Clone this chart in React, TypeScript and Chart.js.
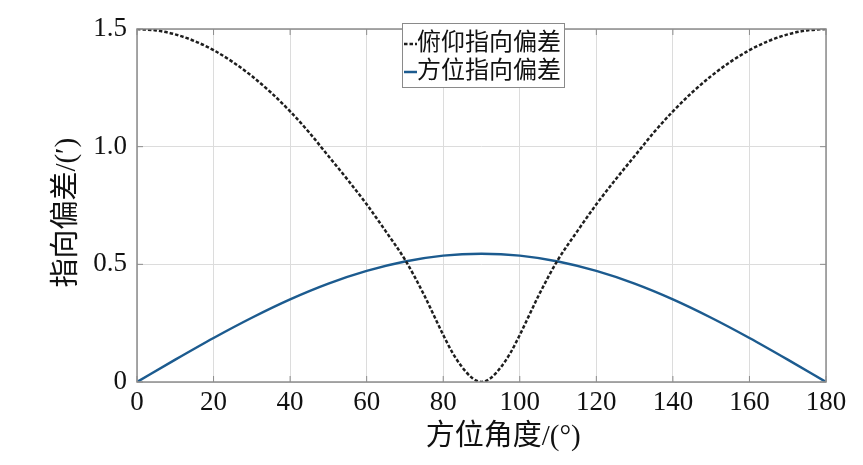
import React, { useEffect, useRef } from 'react';
import { Chart, registerables } from 'chart.js';

Chart.register(...registerables);

// ---- data ----
const elevationAngles = [
  0, 5, 10, 15, 20, 25, 30, 35, 40, 45, 50, 55, 60, 65, 70, 75, 77.5, 80, 82.5, 85, 87.5, 90,
  92.5, 95, 97.5, 100, 102.5, 105, 110, 115, 120, 125, 130, 135, 140, 145, 150, 155, 160, 165, 170, 175, 180,
];
const elevationDeviation = [
  1.5, 1.494, 1.477, 1.449, 1.41, 1.36, 1.3, 1.23, 1.15, 1.06, 0.96, 0.86, 0.755, 0.64, 0.52, 0.37, 0.285, 0.2, 0.122, 0.062, 0.018, 0,
  0.018, 0.062, 0.122, 0.2, 0.285, 0.37, 0.52, 0.64, 0.755, 0.86, 0.96, 1.06, 1.15, 1.23, 1.3, 1.36, 1.41, 1.449, 1.477, 1.494, 1.5,
];
const azimuthAngles = [0, 10, 20, 30, 40, 50, 60, 70, 80, 90, 100, 110, 120, 130, 140, 150, 160, 170, 180];
const azimuthDeviation = [
  0, 0.095, 0.187, 0.273, 0.351, 0.418, 0.472, 0.512, 0.537, 0.545, 0.537, 0.512, 0.472, 0.418, 0.351, 0.273, 0.187, 0.095, 0,
];
const seriesLabels = ['俯仰指向偏差', '方位指向偏差'];
const xTitle = '\u00A0\u00A0\u00A0\u00A0\u00A0\u00A0方位角度/(°)';
const yTitle = '指向偏差/(′)\u00A0\u00A0';
const xTicks = [0, 20, 40, 60, 80, 100, 120, 140, 160, 180];
const yTicks = [0, 0.5, 1.0, 1.5];
const yTickLabels = ['0', '0.5', '1.0', '1.5'];

const FONT = "'Liberation Serif', 'Noto Sans CJK SC', serif";
const FRAME = '#8c8c8c';
const GRID = '#dcdcdc';

const framePlugin = {
  id: 'matlabFrame',
  afterDatasetsDraw(chart: any) {
    const { ctx, chartArea, scales } = chart;
    const { left, right, top, bottom } = chartArea;
    ctx.save();
    // inner tick marks
    ctx.strokeStyle = FRAME;
    ctx.lineWidth = 1;
    const tl = 6;
    ctx.beginPath();
    xTicks.forEach((v) => {
      const px = scales.x.getPixelForValue(v);
      ctx.moveTo(px, bottom);
      ctx.lineTo(px, bottom - tl);
      ctx.moveTo(px, top);
      ctx.lineTo(px, top + tl);
    });
    yTicks.forEach((v) => {
      const py = scales.y.getPixelForValue(v);
      ctx.moveTo(left, py);
      ctx.lineTo(left + tl, py);
      ctx.moveTo(right, py);
      ctx.lineTo(right - tl, py);
    });
    ctx.stroke();
    // box
    ctx.lineWidth = 1.5;
    ctx.strokeRect(left, top, right - left, bottom - top);

    // legend box
    const bx = 402, by = 23, bw = 162, bh = 64;
    ctx.fillStyle = '#ffffff';
    ctx.fillRect(bx, by, bw, bh);
    ctx.strokeStyle = '#8a8a8a';
    ctx.lineWidth = 1;
    ctx.strokeRect(bx + 0.5, by + 0.5, bw, bh);
    const rows = [44, 72];
    chart.data.datasets.forEach((ds: any, i: number) => {
      const y = rows[i];
      ctx.strokeStyle = ds.borderColor;
      ctx.lineWidth = 2.5;
      ctx.setLineDash(ds.borderDash || []);
      ctx.beginPath();
      ctx.moveTo(bx + 2, y);
      ctx.lineTo(bx + 15, y);
      ctx.stroke();
      ctx.setLineDash([]);
      ctx.fillStyle = '#111111';
      ctx.font = `24px ${FONT}`;
      ctx.textBaseline = 'middle';
      ctx.textAlign = 'left';
      ctx.fillText(ds.label, bx + 15, y);
    });
    ctx.restore();
  },
};

export default function App() {
  const canvasRef = useRef<HTMLCanvasElement | null>(null);

  useEffect(() => {
    document.body.style.margin = '0';
    const canvas = canvasRef.current;
    if (!canvas) return;
    const chart = new Chart(canvas, {
      type: 'line',
      data: {
        datasets: [
          {
            label: seriesLabels[0],
            data: elevationAngles.map((a, i) => ({ x: a, y: elevationDeviation[i] })),
            borderColor: '#1e1e1e',
            borderWidth: 2.5,
            borderDash: [3.5, 2],
            pointRadius: 0,
            fill: false,
            cubicInterpolationMode: 'monotone',
          },
          {
            label: seriesLabels[1],
            data: azimuthAngles.map((a, i) => ({ x: a, y: azimuthDeviation[i] })),
            borderColor: '#1c5b8f',
            borderWidth: 2.5,
            pointRadius: 0,
            fill: false,
            cubicInterpolationMode: 'monotone',
          },
        ],
      },
      options: {
        animation: false,
        responsive: false,
        devicePixelRatio: 1,
        layout: { padding: { left: 30, top: 29, right: 37, bottom: 0 } },
        plugins: {
          legend: { display: false },
          tooltip: { enabled: false },
        },
        scales: {
          x: {
            type: 'linear',
            min: 0,
            max: 180,
            afterFit: (s: any) => {
              s.height = 83;
            },
            afterBuildTicks: (s: any) => {
              s.ticks = xTicks.map((v) => ({ value: v }));
            },
            ticks: {
              stepSize: 20,
              padding: 5,
              color: '#111111',
              font: { family: FONT, size: 27 },
              maxRotation: 0,
              callback: (v: any) => String(v),
            },
            grid: { color: GRID, lineWidth: 1, drawTicks: false },
            border: { display: false },
            title: {
              display: true,
              text: xTitle,
              color: '#111111',
              font: { family: FONT, size: 29 },
              padding: { top: 0, bottom: 10 },
            },
          },
          y: {
            type: 'linear',
            min: 0,
            max: 1.5,
            afterFit: (s: any) => {
              s.width = 107;
            },
            afterBuildTicks: (s: any) => {
              s.ticks = yTicks.map((v) => ({ value: v }));
            },
            ticks: {
              stepSize: 0.5,
              padding: 10,
              color: '#111111',
              font: { family: FONT, size: 27 },
              callback: (v: any) => {
                const idx = yTicks.indexOf(Number(v));
                return idx >= 0 ? yTickLabels[idx] : '';
              },
            },
            grid: { color: GRID, lineWidth: 1, drawTicks: false },
            border: { display: false },
            title: {
              display: true,
              text: yTitle,
              color: '#111111',
              font: { family: FONT, size: 29 },
              padding: { top: 20, bottom: 0 },
            },
          },
        },
      },
      plugins: [framePlugin],
    } as any);
    return () => chart.destroy();
  }, []);

  return (
    <div style={{ width: 863, height: 465, background: '#ffffff' }}>
      <canvas ref={canvasRef} width={863} height={465} style={{ display: 'block' }} />
    </div>
  );
}
